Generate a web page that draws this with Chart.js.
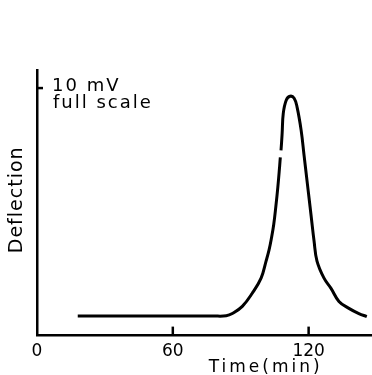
<!DOCTYPE html>
<html>
<head>
<meta charset="utf-8">
<script src="https://cdn.jsdelivr.net/npm/chart.js@4"></script>
<style>
    html, body { margin: 0; padding: 0; background: #fff; }
    #wrap { width: 372px; height: 375px; position: relative; }
</style>
</head>
<body>
<div id="wrap"><canvas id="elution"></canvas></div>
<script>
// Elution trace
const timeMin = [18, 40, 60, 78, 83.6, 86.3, 90.7, 95.1, 99.0, 101.2, 102.5, 103.6, 104.6, 105.5, 106.4, 107.2, 107.5, 107.8, 108.3, 108.8, 110.1, 111.8, 113.6, 114.9, 116.7, 118.0, 119.3, 120.2, 121.1, 122.4, 123.7, 126.8, 129.9, 133.4, 137.8, 142.2, 145.7];
const deflection = [0.79, 0.79, 0.79, 0.79, 0.80, 0.89, 1.18, 1.71, 2.32, 3.01, 3.45, 3.95, 4.5, 5.2, 6.0, 6.85, 7.2, 7.48, 8.17, 8.98, 9.51, 9.67, 9.59, 9.23, 8.29, 7.27, 6.25, 5.55, 4.84, 3.82, 3.01, 2.32, 1.91, 1.38, 1.10, 0.89, 0.77];
const gapAt = 16; // little break in the printed trace, between these two points

const xTicks = [0, 60, 120];
const xRange = [0, 148];
const yRange = [0, 10.73];
const yMark = 10;
const yMarkLabel = ['10 mV', 'full scale'];
const xTitle = 'Time(min)';
const yTitle = 'Deflection';

const ink = '#000';
const font = '"DejaVu Sans", sans-serif';

// inward tick marks and the hand lettering
const inkPlugin = {
    id: 'ink',
    afterDraw(chart) {
        const { ctx, chartArea, scales: { x, y } } = chart;
        ctx.save();
        ctx.strokeStyle = ink;
        ctx.lineWidth = 2.5;
        xTicks.forEach(v => {
            if (v === 0) return;
            const px = x.getPixelForValue(v);
            ctx.beginPath();
            ctx.moveTo(px, chartArea.bottom);
            ctx.lineTo(px, chartArea.bottom - 9);
            ctx.stroke();
        });
        const py = y.getPixelForValue(yMark);
        ctx.beginPath();
        ctx.moveTo(chartArea.left, py);
        ctx.lineTo(chartArea.left + 6, py);
        ctx.stroke();

        ctx.fillStyle = ink;
        ctx.textAlign = 'left';
        ctx.textBaseline = 'middle';
        ctx.font = '18px ' + font;
        ctx.letterSpacing = '2px';
        ctx.fillText(yMarkLabel[0], chartArea.left + 15, py - 2);
        ctx.fillText(yMarkLabel[1], chartArea.left + 16, py + 15);

        ctx.textAlign = 'center';
        ctx.font = '17px ' + font;
        ctx.letterSpacing = '3px';
        ctx.fillText(xTitle, x.getPixelForValue(101), chartArea.bottom + 32);

        ctx.font = '19px ' + font;
        ctx.letterSpacing = '1px';
        ctx.translate(chartArea.left - 20, (chartArea.top + chartArea.bottom) / 2 - 3);
        ctx.rotate(-Math.PI / 2);
        ctx.fillText(yTitle, 0, 0);
        ctx.restore();
    }
};

const ctx = document.getElementById('elution').getContext('2d');

new Chart(ctx, {
    type: 'line',
    data: {
        datasets: [{
            data: timeMin.map((t, i) => ({ x: t, y: deflection[i] })),
            borderColor: ink,
            borderWidth: 3,
            pointRadius: 0,
            fill: false,
            tension: 0.4,
            segment: {
                borderColor: c => c.p0DataIndex === gapAt ? 'rgba(0,0,0,0)' : undefined
            }
        }]
    },
    options: {
        responsive: true,
        maintainAspectRatio: false,
        animation: false,
        layout: {
            padding: { left: 37, right: 0, top: 70, bottom: 7 }
        },
        plugins: {
            legend: { display: false },
            tooltip: { enabled: false }
        },
        scales: {
            x: {
                type: 'linear',
                min: xRange[0],
                max: xRange[1],
                afterBuildTicks: axis => {
                    axis.ticks = xTicks.map(v => ({ value: v }));
                },
                grid: { display: false, drawTicks: false },
                border: { color: ink, width: 2.5 },
                ticks: {
                    color: ink,
                    padding: 6,
                    maxRotation: 0,
                    font: { family: font, size: 17 }
                }
            },
            y: {
                type: 'linear',
                min: yRange[0],
                max: yRange[1],
                grid: { display: false, drawTicks: false },
                border: { color: ink, width: 2.5 },
                ticks: { display: false }
            }
        }
    },
    plugins: [inkPlugin]
});
</script>
</body>
</html>
